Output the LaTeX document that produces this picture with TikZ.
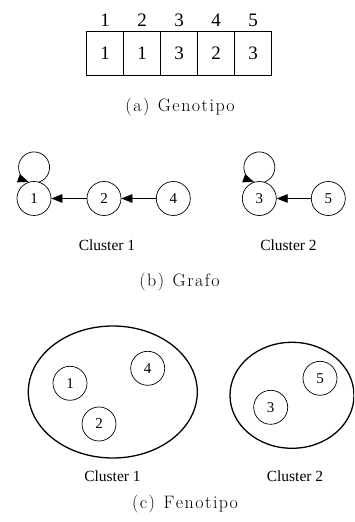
\documentclass[tikz,border=0pt]{standalone}
\usepackage{fontspec}
\usetikzlibrary{arrows.meta,shapes.geometric}
\newfontfamily\serifnum{Liberation Serif}
\newcommand\tabdigits{\serifnum\fontsize{19}{21}\selectfont}
\newcommand\vtxdigits{\serifnum\fontsize{15}{17}\selectfont}
\newcommand\clustertxt{\serifnum\fontsize{15.5}{17}\selectfont}
\newcommand\subcaptxt{\fontsize{18}{20}\selectfont}
% wide tracking for the sub-captions
\newcommand\tr{\kern1.5pt}
\begin{document}
\begin{tikzpicture}[x=1pt,y=1pt,
  cell/.style={draw, line width=0.8pt, minimum width=37pt, minimum height=44pt,
               inner sep=0pt, font=\tabdigits},
  idx/.style={inner sep=0pt, font=\tabdigits},
  vtx/.style={circle, draw, line width=0.7pt, minimum size=34pt, inner sep=0pt,
              font=\vtxdigits},
  arr/.style={line width=0.7pt, -{Triangle[length=11pt,width=8.5pt]}},
  grp/.style={ellipse, draw, line width=1.3pt, inner sep=0pt},
  clab/.style={inner sep=0pt, font=\clustertxt},
  subcap/.style={inner sep=0pt, font=\subcaptxt}]
\clip (0,0) rectangle (354,522);
\fill[white] (0,0) rectangle (354,522);

% (a) genotype: one cell per gene, index above
\foreach \v [count=\i] in {1,1,3,2,3} {
  \node[cell] (c\i) at ({68+37*\i},469) {\v};
  \node[idx] (i\i) at ({68+37*\i},502) {\i};
}
\node[subcap] (capa) at (180,415)
  {(\tr a\tr)\tr\ \tr G\tr e\tr n\tr o\tr t\tr i\tr p\tr o};

% (b) graph of the genotype
\node[vtx] (g1) at (34,323.5) {1};
\node[vtx] (g2) at (104,323.5) {2};
\node[vtx] (g4) at (173.3,323.5) {4};
\node[vtx] (g3) at (259.3,323.5) {3};
\node[vtx] (g5) at (328.3,323.5) {5};
\draw[arr] (g2) -- (g1);
\draw[arr] (g4) -- (g2);
\draw[arr] (g5) -- (g3);
\draw[arr] (g1.72) arc[start angle=-70, end angle=250, radius=15.5];
\draw[arr] (g3.72) arc[start angle=-70, end angle=250, radius=15.5];
\node[clab] (gc1) at (107,277) {Cluster 1};
\node[clab] (gc2) at (288.5,277) {Cluster 2};
\node[subcap] (capb) at (179.5,240)
  {(\tr b\tr)\tr\ \tr G\tr r\tr a\tr f\tr o};

% (c) phenotype: clusters as ellipses
\node[grp, minimum width=169pt, minimum height=132pt] (e1) at (112.8,130) {};
\node[grp, minimum width=124pt, minimum height=106pt] (e2) at (292,126.7) {};
\node[vtx] (p1) at (70,138.7) {1};
\node[vtx] (p4) at (147.7,153.7) {4};
\node[vtx] (p2) at (99,98) {2};
\node[vtx] (p3) at (270.7,114.7) {3};
\node[vtx] (p5) at (320,143.7) {5};
\node[clab] (pc1) at (112.5,46) {Cluster 1};
\node[clab] (pc2) at (295,46) {Cluster 2};
\node[subcap] (capc) at (185,17.7)
  {(\tr c\tr)\tr\ \tr F\tr e\tr n\tr o\tr t\tr i\tr p\tr o};
\end{tikzpicture}
\end{document}
